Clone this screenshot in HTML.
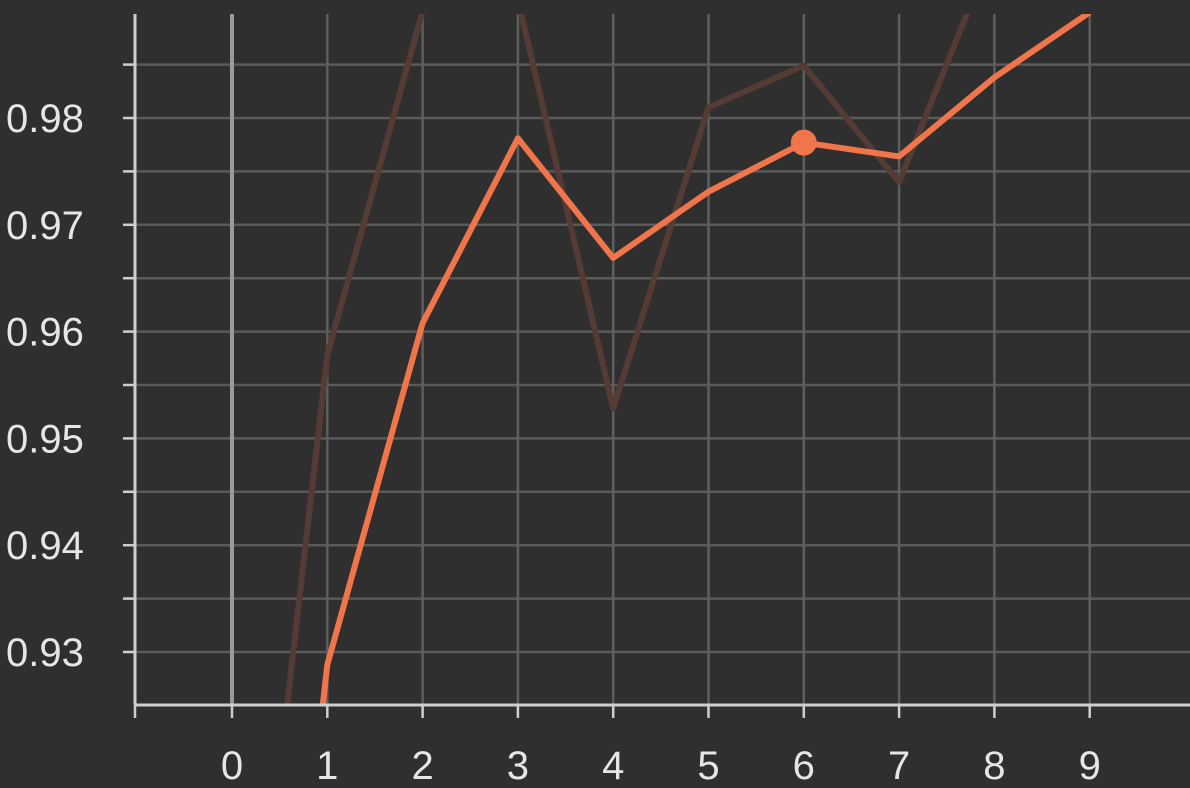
<!DOCTYPE html>
<html><head><meta charset="utf-8">
<style>
html,body{margin:0;padding:0;background:#2f2f2f;width:1190px;height:788px;overflow:hidden;}
svg{display:block;font-family:"Liberation Sans",sans-serif;}
</style></head>
<body>
<svg id="chart" width="1190" height="788" viewBox="0 0 1190 788" xmlns="http://www.w3.org/2000/svg">
<rect width="1190" height="788" fill="#2f2f2f"/>
<defs><clipPath id="plotclip"><rect x="135" y="14" width="1055" height="691"/></clipPath></defs>
<g id="grid"></g>
<g id="series" clip-path="url(#plotclip)"></g>
<g id="axes"></g>
</svg>
<script>
const steps = [0,1,2,3,4,5,6,7,8,9];
const smoothed = [0.85,0.9288,0.9608,0.9781,0.9669,0.9731,0.9777,0.9764,0.9838,0.9899];
const raw = [0.88,0.9578,0.99,0.9911,0.9528,0.9810,0.9849,0.9740,0.9961,0.993];
const yTicks = [0.93,0.94,0.95,0.96,0.97,0.98];
const yTickLabels = ["0.93","0.94","0.95","0.96","0.97","0.98"];
const xTicks = [0,1,2,3,4,5,6,7,8,9];
const highlightIndex = 6;

const NS = "http://www.w3.org/2000/svg";
const X0=135, X1=1190, Y0=14, Y1=705;
function xs(v){ return 232 + v*95.3; }
function ys(v){ return 118 - (v-0.98)*10680; }
function mk(tag, attrs, parent){
  const e=document.createElementNS(NS,tag);
  for(const k in attrs) e.setAttribute(k,attrs[k]);
  parent.appendChild(e); return e;
}
const grid=document.getElementById('grid'), series=document.getElementById('series'), axes=document.getElementById('axes');
for(let v=0.925; v<=0.99; v+=0.005){
  const y=ys(v); if(y<Y0-1||y>Y1-2) continue;
  const l=mk('line',{x1:X0,x2:X1,y1:y,y2:y,stroke:'#5a5a5a','stroke-width':2.5},grid);
  
  
  const t=mk('line',{x1:X0-12,x2:X0,y1:y,y2:y,stroke:'#cfcfcf','stroke-width':2.5},axes);
  
  
}
xTicks.forEach(v=>{
  const x=xs(v);
  const l=mk('line',{x1:x,x2:x,y1:Y0,y2:Y1,stroke:v===0?'#9a9a9a':'#5e5e5e','stroke-width':v===0?4:2.5},grid);
  
  
  const t=mk('line',{x1:x,x2:x,y1:Y1,y2:Y1+13,stroke:'#cfcfcf','stroke-width':2.5},axes);
  
  
  const tx=mk('text',{x:x,y:779,'text-anchor':'middle','font-size':40,fill:'#e6e6e6'},axes);
  tx.textContent=String(v);
  
  
});
const t0=mk('line',{x1:X0,x2:X0,y1:Y1,y2:Y1+13,stroke:'#cfcfcf','stroke-width':2.5},axes);


yTicks.forEach((v,i)=>{
  const tx=mk('text',{x:6,y:ys(v)+14,'font-size':40,fill:'#e6e6e6'},axes);
  tx.textContent=yTickLabels[i];
  
  
});
const ax=mk('line',{x1:X0,x2:X0,y1:Y0,y2:Y1,stroke:'#cfcfcf','stroke-width':3},axes);


const bx=mk('line',{x1:X0,x2:X1,y1:Y1,y2:Y1,stroke:'#cfcfcf','stroke-width':3},axes);



function pts(arr){ return arr.map((v,i)=>xs(steps[i])+','+ys(v)).join(' '); }
const rl=mk('polyline',{points:pts(raw),fill:'none',stroke:'#543c34','stroke-width':6,'stroke-linejoin':'round'},series);


const sl=mk('polyline',{points:pts(smoothed),fill:'none',stroke:'#f0754a','stroke-width':6,'stroke-linejoin':'round'},series);


const dot=mk('circle',{cx:xs(steps[highlightIndex]),cy:ys(smoothed[highlightIndex]),r:13,fill:'#f0754a'},series);


</script>
</body></html>
